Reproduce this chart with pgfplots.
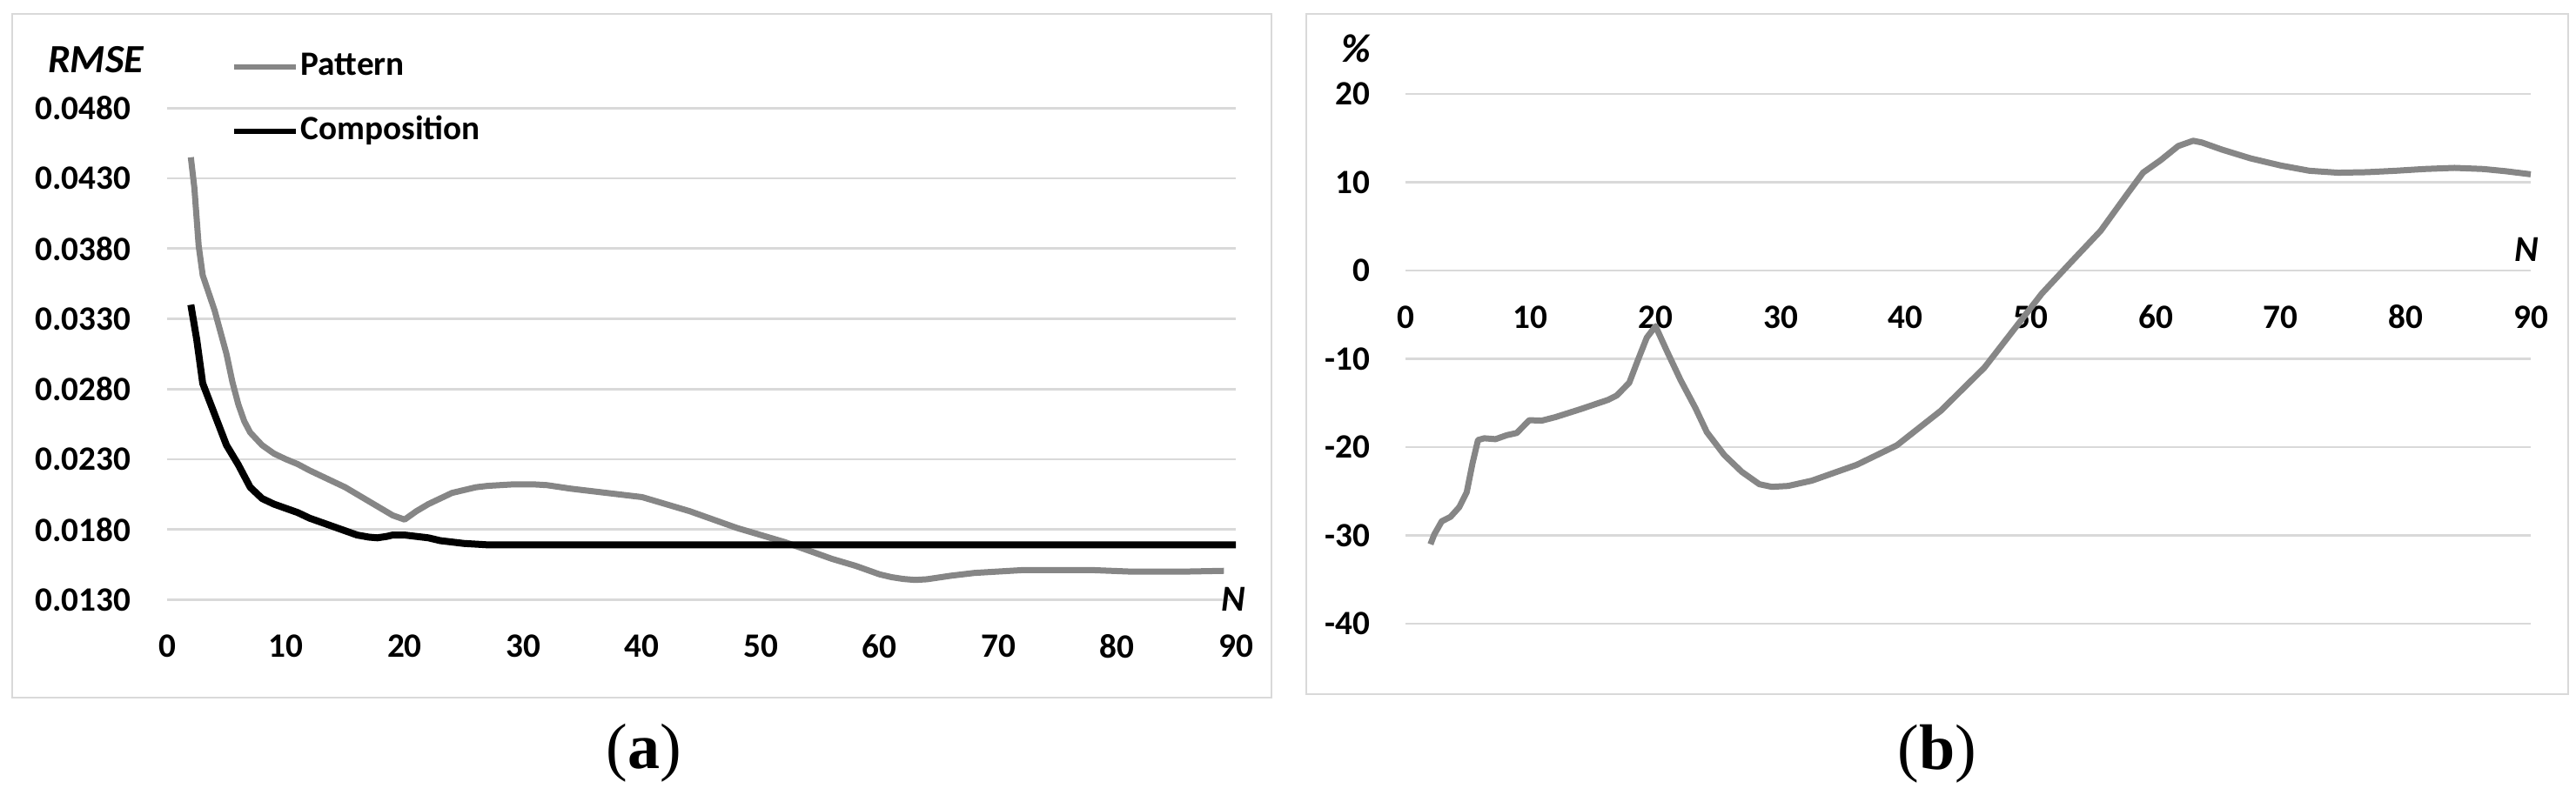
\documentclass[border=0pt]{standalone}
\usepackage{fontspec}
\setmainfont{Carlito}
\newfontfamily\capfont{Liberation Serif}
\usepackage{pgfplots}
\pgfplotsset{compat=1.18}
\definecolor{gridgray}{RGB}{217,217,217}
\definecolor{linegray}{RGB}{134,134,134}

\pgfplotsset{excel/.style={
  scale only axis, clip=false,
  axis line style={draw=none},
  major tick length=0pt,
  ymajorgrids, grid style={gridgray, line width=0.7pt},
  xmin=0, xmax=90, xtick={0,10,...,90},
  tick label style={font=\bfseries\fontsize{9.8}{11}\selectfont},
  /pgf/number format/assume math mode=true,
}}

\begin{document}
\begin{tikzpicture}
\path[use as bounding box] (0,0) rectangle (740pt,-230.5pt);
\draw[gridgray, line width=0.7pt] (3.5pt,-4pt) rectangle (365.25pt,-200.5pt);
\draw[gridgray, line width=0.7pt] (375.25pt,-4pt) rectangle (737.75pt,-199.5pt);

% (a) RMSE
\begin{axis}[excel,
  at={(48pt,-172.33pt)}, anchor=south west,
  width=307pt, height=141.25pt,
  ymin=0.013, ymax=0.048,
  ytick={0.013,0.018,0.023,0.028,0.033,0.038,0.043,0.048},
  scaled y ticks=false,
  yticklabel style={anchor=east, inner sep=0pt, xshift=-10.25pt,
    /pgf/number format/.cd, fixed, fixed zerofill, precision=4},
  xticklabel style={anchor=center, yshift=-13.4pt},
  legend style={at={(0.0603,1.0182)}, anchor=west, draw=none, fill=none,
    inner sep=0pt, outer sep=0pt, row sep=9pt,
    font=\bfseries\fontsize{9.8}{11}\selectfont,
    nodes={inner sep=0pt, text height=7pt, text depth=2.5pt},
    /tikz/every odd column/.append style={column sep=0.75pt}},
  legend cell align=left,
  legend image code/.code={\draw[#1, line width=1.4pt] (0pt,0pt) -- (17.75pt,0pt);},
]
\addplot[linegray, line width=1.75pt, line join=round] coordinates {
  (2,0.0445) (2.3,0.0423) (2.66,0.0382) (3,0.0361) (4,0.0336) (5,0.0305)
  (5.5,0.0285) (6,0.0269) (6.5,0.0257) (7,0.0249) (8,0.0240) (9,0.0234)
  (10,0.0230) (11,0.02265) (12,0.0222) (13,0.0218) (14,0.0214) (15,0.0210)
  (16,0.0205) (17,0.0200) (18,0.0195) (19,0.0190) (20,0.0187) (21,0.0193)
  (22,0.0198) (23,0.0202) (24,0.0206) (25,0.0208) (26,0.0210) (27,0.0211)
  (28,0.02115) (29,0.0212) (30,0.0212) (31,0.0212) (32,0.02115) (34,0.0209)
  (36,0.0207) (38,0.0205) (40,0.0203) (42,0.0198) (44,0.0193) (46,0.0187)
  (48,0.0181) (50,0.0176) (52,0.0171) (54,0.0165) (56,0.0159) (58,0.0154)
  (60,0.0148) (61,0.0146) (62,0.01447) (63,0.0144) (64,0.01445) (66,0.0147)
  (68,0.0149) (70,0.0150) (72,0.0151) (75,0.0151) (78,0.0151) (81,0.0150)
  (84,0.0150) (86,0.0150) (89,0.01505)
};
\addlegendentry{Pattern}
\addplot[black, line width=2pt, line join=round] coordinates {
  (2,0.0340) (2.5,0.0315) (3,0.0284) (3.5,0.0273) (4,0.0262) (5,0.0240)
  (6,0.0226) (7,0.0210) (8,0.0202) (9,0.0198) (10,0.0195) (11,0.0192)
  (12,0.0188) (13,0.0185) (14,0.0182) (15,0.0179) (16,0.0176) (17,0.01745)
  (17.7,0.0174) (18.5,0.0175) (19,0.0176) (20,0.0176) (21,0.0175) (22,0.0174)
  (23,0.0172) (24,0.0171) (25,0.0170) (27,0.0169) (30,0.0169) (90,0.0169)
};
\addlegendentry{Composition}
\node[font=\bfseries\itshape\fontsize{10.5}{12}\selectfont] at (axis cs:89.8,0.013) {N};
\end{axis}

% (b) percent
\begin{axis}[excel,
  at={(403.75pt,-179.25pt)}, anchor=south west,
  width=323.25pt, height=152.25pt,
  ymin=-40, ymax=20, ytick={-40,-30,...,20},
  yticklabel style={anchor=east, inner sep=0pt, xshift=-10pt},
  xticklabel style={anchor=center, yshift=88.1pt},
]
\addplot[linegray, line width=1.75pt, line join=round] coordinates {
  (2,-31.0) (2.3,-29.9) (2.9,-28.4) (3.6,-27.9) (4.3,-26.8) (4.9,-25.1)
  (5.35,-21.9) (5.8,-19.2) (6.3,-19.0) (7.2,-19.1) (8.1,-18.65) (8.9,-18.4)
  (9.9,-16.95) (10.9,-17.0) (12,-16.6) (14,-15.7) (16.2,-14.65) (16.9,-14.15)
  (17.9,-12.7) (18.6,-10.1) (19.3,-7.6) (20,-6.3) (20.9,-9.1) (22,-12.4)
  (23.2,-15.6) (24.1,-18.3) (25.5,-20.9) (26.9,-22.8) (28.3,-24.2) (29.3,-24.5)
  (30.6,-24.4) (32.5,-23.8) (34.3,-22.9) (36.1,-22.0) (39.3,-19.8) (42.8,-15.9)
  (46.3,-11.0) (48.6,-6.8) (50.9,-2.6) (53.2,0.9) (55.6,4.5) (57.9,9.0)
  (59,11.1) (60.4,12.5) (61.8,14.1) (63,14.7) (63.7,14.5) (65.3,13.7)
  (67.6,12.7) (70,11.9) (72.3,11.3) (74.6,11.08) (76.9,11.14) (79.2,11.3)
  (81.5,11.5) (83.9,11.63) (86.2,11.5) (88,11.25) (90,10.9)
};
\node[font=\bfseries\itshape\fontsize{10.5}{12}\selectfont] at (axis cs:89.65,2.36) {N};
\end{axis}

\node[font=\bfseries\itshape\fontsize{11.5}{13}\selectfont] at (27.5pt,-17.25pt) {RMSE};
\node[font=\bfseries\itshape\fontsize{11.5}{13}\selectfont] at (389.5pt,-14pt) {\%};
\node[font=\capfont\fontsize{18.5}{20}\selectfont] at (185pt,-216.5pt) {(\textbf{a})};
\node[font=\capfont\fontsize{18.5}{20}\selectfont] at (556.5pt,-216.75pt) {(\textbf{b})};
\end{tikzpicture}
\end{document}
